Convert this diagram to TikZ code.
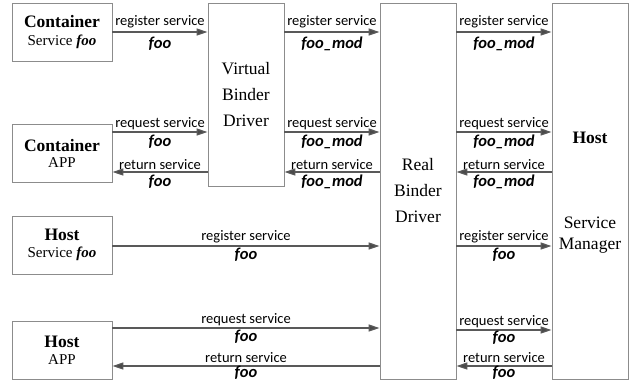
\documentclass[tikz,border=0pt]{standalone}
\usepackage{fontspec}
\setmainfont{Liberation Serif}
\newfontfamily\lblfont{Carlito}
\usetikzlibrary{arrows.meta}
\definecolor{boxc}{HTML}{8C8C8C}
\definecolor{arrc}{HTML}{595959}
\definecolor{tipc}{HTML}{4A4A4A}
\begin{document}
\begin{tikzpicture}[x=1pt,y=-1pt,
  box/.style={draw=boxc,line width=0.9pt,fill=white,inner sep=0pt,minimum width=100pt,minimum height=58pt,align=center,font=\fontsize{17.5}{18}\selectfont},
  col/.style={draw=boxc,line width=0.9pt,fill=white,inner sep=0pt,minimum width=76pt,align=center,font=\fontsize{17.5}{26}\selectfont},
  arr/.style={draw=arrc,line width=1.2pt,-{Triangle[length=11pt,width=7pt,fill=tipc]}},
  lab/.style={font=\lblfont\fontsize{14.5}{16}\selectfont,inner sep=0pt},
  fo/.style={font=\lblfont\fontsize{16.5}{18}\selectfont\bfseries\itshape,inner sep=0pt},
  big/.style={font=\fontsize{17.5}{20}\selectfont,inner sep=0pt}]
\useasboundingbox (0,0) rectangle (633,381);
% boxes
\node[box] (cs) at (62,32) {\textbf{Container}\\[-0.5pt]{\fontsize{15}{18}\selectfont Service \textbf{\textit{foo}}}};
\node[box] (ca) at (62,153) {\textbf{Container}\\[-2pt]{\fontsize{15}{18}\selectfont APP}};
\node[box] (hs) at (62,245) {\textbf{Host}\\[-0.5pt]{\fontsize{15}{18}\selectfont Service \textbf{\textit{foo}}}};
\node[box] (ha) at (62,350) {\textbf{Host}\\[-1pt]{\fontsize{15}{18}\selectfont APP}};
\node[col,minimum height=183pt] (vbd) at (246,94.5) {Virtual\\Binder\\Driver};
\node[col,minimum height=376pt] (rbd) at (418,191) {Real\\Binder\\Driver};
\node[col,minimum height=376pt] (sm) at (590,191) {};
\node[big,anchor=base] (smh) at (590,143) {\textbf{Host}};
\node[big,anchor=base] (sms) at (590,228) {Service};
\node[big,anchor=base] (smm) at (590,249) {Manager};
% row levels
\coordinate (r1) at (0,32);
\coordinate (r2) at (0,132);
\coordinate (r3) at (0,172);
\coordinate (r4) at (0,246);
\coordinate (r5) at (0,328);
\coordinate (r5b) at (0,330);
\coordinate (r6) at (0,366);
% row 1
\draw[arr] (cs.east |- r1) -- node[lab,midway,yshift=10pt]{register service} node[fo,midway,yshift=-12pt]{foo} (vbd.west |- r1);
\draw[arr] (vbd.east |- r1) -- node[lab,midway,yshift=10pt]{register service} node[fo,midway,yshift=-12pt]{foo\_mod} (rbd.west |- r1);
\draw[arr] (rbd.east |- r1) -- node[lab,midway,yshift=10pt]{register service} node[fo,midway,yshift=-12pt]{foo\_mod} (sm.west |- r1);
% row 2
\draw[arr] (ca.east |- r2) -- node[lab,midway,yshift=8.5pt]{request service} node[fo,midway,yshift=-9.5pt]{foo} (vbd.west |- r2);
\draw[arr] (vbd.east |- r2) -- node[lab,midway,yshift=8.5pt]{request service} node[fo,midway,yshift=-9.5pt]{foo\_mod} (rbd.west |- r2);
\draw[arr] (rbd.east |- r2) -- node[lab,midway,yshift=8.5pt]{request service} node[fo,midway,yshift=-9.5pt]{foo\_mod} (sm.west |- r2);
% row 3
\draw[arr] (vbd.west |- r3) -- node[lab,midway,yshift=7pt]{return service} node[fo,midway,yshift=-10pt]{foo} (ca.east |- r3);
\draw[arr] (rbd.west |- r3) -- node[lab,midway,yshift=7pt]{return service} node[fo,midway,yshift=-10pt]{foo\_mod} (vbd.east |- r3);
\draw[arr] (sm.west |- r3) -- node[lab,midway,yshift=7pt]{return service} node[fo,midway,yshift=-10pt]{foo\_mod} (rbd.east |- r3);
% row 4
\draw[arr] (hs.east |- r4) -- node[lab,midway,yshift=9pt]{register service} node[fo,midway,yshift=-9pt]{foo} (rbd.west |- r4);
\draw[arr] (rbd.east |- r4) -- node[lab,midway,yshift=9pt]{register service} node[fo,midway,yshift=-9pt]{foo} (sm.west |- r4);
% row 5
\draw[arr] (ha.east |- r5) -- node[lab,midway,yshift=8.5pt]{request service} node[fo,midway,yshift=-9pt]{foo} (rbd.west |- r5);
\draw[arr] (rbd.east |- r5b) -- node[lab,midway,yshift=8.5pt]{request service} node[fo,midway,yshift=-8pt]{foo} (sm.west |- r5b);
% row 6
\draw[arr] (rbd.west |- r6) -- node[lab,midway,yshift=8.5pt]{return service} node[fo,midway,yshift=-6.5pt]{foo} (ha.east |- r6);
\draw[arr] (sm.west |- r6) -- node[lab,midway,yshift=8.5pt]{return service} node[fo,midway,yshift=-6.5pt]{foo} (rbd.east |- r6);
\end{tikzpicture}
\end{document}
